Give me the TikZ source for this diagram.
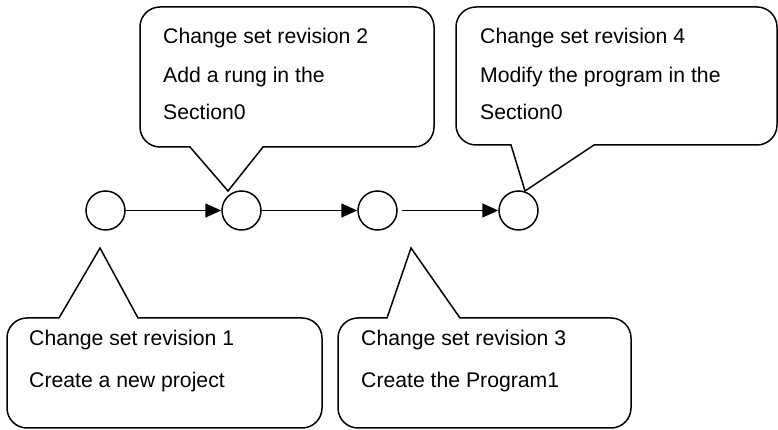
\documentclass[tikz,border=0pt]{standalone}
\usepackage{fontspec}
\setmainfont{Liberation Sans}
\usetikzlibrary{arrows.meta}
\tikzset{
  ln/.style={line width=1.5pt, line join=miter},
  rev/.style={circle, draw, line width=1.5pt, minimum size=39pt, inner sep=0pt},
  flow/.style={line width=1.5pt, -{Triangle[length=16pt,width=14pt]}},
  txt/.style={anchor=base west, inner sep=0pt, font=\fontsize{21.2pt}{25pt}\selectfont}
}
% callout with pointer at bottom: L,R,T,B,x1,x2,tipx,tipy
\newcommand{\calloutdown}[8]{%
  \draw[ln, fill=white] (#5,#4) -- (#1+20,#4) arc[start angle=270,end angle=180,radius=20pt]
    -- (#1,#3-20) arc[start angle=180,end angle=90,radius=20pt]
    -- (#2-20,#3) arc[start angle=90,end angle=0,radius=20pt]
    -- (#2,#4+20) arc[start angle=0,end angle=-90,radius=20pt]
    -- (#6,#4) -- (#7,#8) -- cycle;}
% callout with pointer at top
\newcommand{\calloutup}[8]{%
  \draw[ln, fill=white] (#6,#3) -- (#2-20,#3) arc[start angle=90,end angle=0,radius=20pt]
    -- (#2,#4+20) arc[start angle=0,end angle=-90,radius=20pt]
    -- (#1+20,#4) arc[start angle=270,end angle=180,radius=20pt]
    -- (#1,#3-20) arc[start angle=180,end angle=90,radius=20pt]
    -- (#5,#3) -- (#7,#8) -- cycle;}
\begin{document}
\begin{tikzpicture}[x=1pt,y=1pt]
\useasboundingbox (0,0) rectangle (778,430);
% revision circles
\node[rev] (c1) at (105.5,219.5) {};
\node[rev] (c2) at (241.5,219.5) {};
\node[rev] (c3) at (377.5,219.5) {};
\node[rev] (c4) at (518.5,219.5) {};
\draw[flow] (c1) -- (c2);
\draw[flow] (c2) -- (c3);
\draw[flow, shorten <=4pt] (c3) -- (c4);
% callouts
\calloutdown{140}{434}{423}{283}{190}{263}{228}{239}
\calloutdown{456}{777}{423}{285}{511}{594}{525}{239}
\calloutup{7}{322}{112}{2}{59}{138}{100}{182}
\calloutup{338}{631}{112}{2}{387}{460}{411}{182}
% texts
\node[txt] (t2a) at (163,386) {Change set revision 2};
\node[txt] (t2b) at (163,347) {Add a rung in the};
\node[txt] (t2c) at (163,310) {Section0};
\node[txt] (t4a) at (480,386) {Change set revision 4};
\node[txt] (t4b) at (480,347) {Modify the program in the};
\node[txt] (t4c) at (480,310) {Section0};
\node[txt] (t1a) at (29,84) {Change set revision 1};
\node[txt] (t1b) at (29,42) {Create a new project};
\node[txt] (t3a) at (361,84) {Change set revision 3};
\node[txt] (t3b) at (361,42) {Create the Program1};
\end{tikzpicture}
\end{document}
